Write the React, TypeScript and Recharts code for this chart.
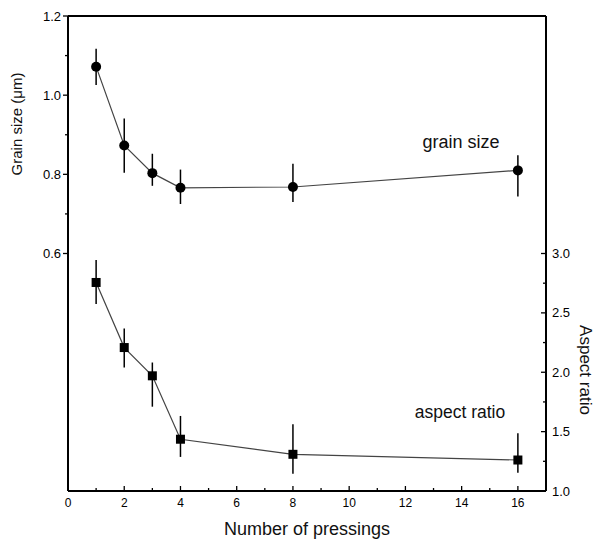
import { ComposedChart, Line, XAxis, YAxis, ErrorBar, ReferenceLine, Customized } from 'recharts'

const pressings = [1, 2, 3, 4, 8, 16]
const grainSize = [1.072, 0.873, 0.803, 0.766, 0.768, 0.81]
const grainErrLow = [0.046, 0.069, 0.032, 0.041, 0.038, 0.066]
const grainErrHigh = [0.045, 0.068, 0.049, 0.046, 0.059, 0.038]
const aspectRatio = [2.756, 2.208, 1.97, 1.436, 1.309, 1.261]
const aspectErrLow = [0.182, 0.169, 0.26, 0.149, 0.163, 0.107]
const aspectErrHigh = [0.19, 0.16, 0.112, 0.196, 0.253, 0.225]

const xTicks = [0, 1, 2, 3, 4, 5, 6, 7, 8, 9, 10, 11, 12, 13, 14, 15, 16, 17]
const grainTicks = [0.6, 0.7, 0.8, 0.9, 1.0, 1.1, 1.2]
const aspectTicks = [1.0, 1.25, 1.5, 1.75, 2.0, 2.25, 2.5, 2.75, 3.0]

const data = pressings.map((x, i) => ({
  x,
  grain: grainSize[i],
  grainErr: [grainErrLow[i], grainErrHigh[i]],
  aspect: aspectRatio[i],
  aspectErr: [aspectErrLow[i], aspectErrHigh[i]],
}))

const FONT = "Arial, 'Liberation Sans', sans-serif"

const XTick = (props: any) => {
  const { x, y, payload } = props
  const v = payload.value
  const major = v % 2 === 0 && v <= 16
  return (
    <g>
      <line x1={x} x2={x} y1={y} y2={y - (major ? 5 : 3)} stroke="#000" strokeWidth={1.3} />
      {major && (
        <text x={x} y={y + 16} textAnchor="middle" fontSize={12} fontFamily={FONT} fill="#000">
          {v}
        </text>
      )}
    </g>
  )
}

const LeftTick = (props: any) => {
  const { x, y, payload } = props
  const v = payload.value
  const major = Math.round(v * 10) % 2 === 0
  return (
    <g>
      <line x1={x - (major ? 5 : 3)} x2={x} y1={y} y2={y} stroke="#000" strokeWidth={1.3} />
      {major && (
        <text x={x - 7} y={y + 4.5} textAnchor="end" fontSize={13} fontFamily={FONT} fill="#000">
          {v.toFixed(1)}
        </text>
      )}
    </g>
  )
}

const RightTick = (props: any) => {
  const { x, y, payload } = props
  const v = payload.value
  const major = Math.round(v * 100) % 50 === 0
  return (
    <g>
      <line x1={x - (major ? 5 : 3)} x2={x} y1={y} y2={y} stroke="#000" strokeWidth={1.3} />
      {major && (
        <text x={x + 6} y={y + 4.5} textAnchor="start" fontSize={13} fontFamily={FONT} fill="#000">
          {v.toFixed(1)}
        </text>
      )}
    </g>
  )
}

const SquareDot = (props: any) => {
  const { cx, cy, index } = props
  return <rect key={`sq-${index}`} x={cx - 4.5} y={cy - 4.5} width={9} height={9} fill="#000" />
}

const Labels = () => (
  <g fontFamily={FONT} fill="#111">
    <text x={461} y={148} textAnchor="middle" fontSize={18}>grain size</text>
    <text x={460} y={418} textAnchor="middle" fontSize={17.5}>aspect ratio</text>
    <text x={307} y={535} textAnchor="middle" fontSize={18}>Number of pressings</text>
    <text x={22} y={124} textAnchor="middle" fontSize={15} transform="rotate(-90 22 124)">Grain size (μm)</text>
    <text x={580} y={370} textAnchor="middle" fontSize={17} transform="rotate(90 580 370)">Aspect ratio</text>
  </g>
)

export default function App() {
  return (
    <div style={{ position: 'absolute', left: 0, top: 0, background: '#fff' }}>
      <ComposedChart width={598} height={540} data={data} margin={{ top: 16, right: 0, bottom: 0, left: 0 }}>
        <XAxis
          type="number"
          dataKey="x"
          domain={[0, 17]}
          ticks={xTicks}
          interval={0}
          height={49}
          tickSize={0}
          tickMargin={0}
          tick={<XTick />}
          axisLine={{ stroke: '#000', strokeWidth: 2 }}
          tickLine={false}
        />
        <YAxis
          yAxisId="left"
          orientation="left"
          domain={[0, 1.2]}
          ticks={grainTicks}
          interval={0}
          width={68}
          tickSize={0}
          tickMargin={0}
          tick={<LeftTick />}
          axisLine={{ stroke: '#000', strokeWidth: 2 }}
          tickLine={false}
        />
        <YAxis
          yAxisId="right"
          orientation="right"
          domain={[1.0, 5.0]}
          ticks={aspectTicks}
          interval={0}
          width={52}
          tickSize={0}
          tickMargin={0}
          tick={<RightTick />}
          axisLine={{ stroke: '#000', strokeWidth: 2 }}
          tickLine={false}
        />
        <ReferenceLine yAxisId="left" y={1.2} stroke="#000" strokeWidth={2} />
        <Line
          yAxisId="left"
          dataKey="grain"
          stroke="#444"
          strokeWidth={1.2}
          dot={{ r: 5, fill: '#000', stroke: '#000', strokeWidth: 0 }}
          isAnimationActive={false}
        >
          <ErrorBar dataKey="grainErr" width={0} stroke="#000" strokeWidth={1.5} direction="y" />
        </Line>
        <Line
          yAxisId="right"
          dataKey="aspect"
          stroke="#444"
          strokeWidth={1.2}
          dot={SquareDot}
          isAnimationActive={false}
        >
          <ErrorBar dataKey="aspectErr" width={0} stroke="#000" strokeWidth={1.5} direction="y" />
        </Line>
        <Customized component={Labels} />
      </ComposedChart>
    </div>
  )
}
